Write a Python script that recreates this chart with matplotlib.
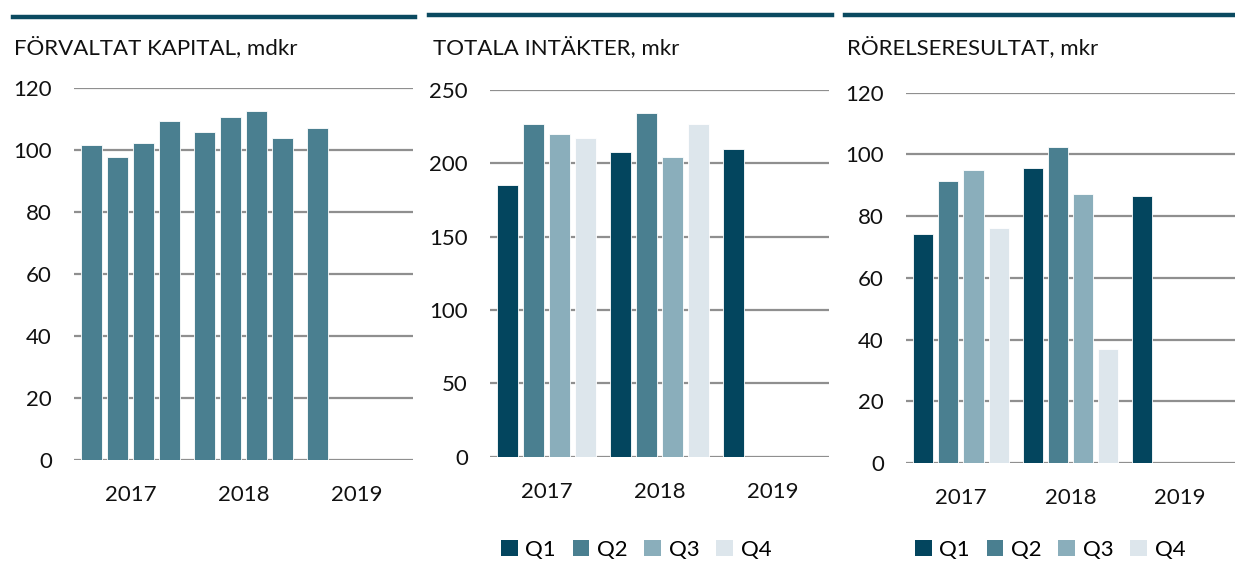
import numpy as np
import matplotlib
matplotlib.use("Agg")
import matplotlib.pyplot as plt
from matplotlib.patches import Patch
from matplotlib.lines import Line2D

plt.rcParams['font.family'] = ['Lato', 'DejaVu Sans']

years = ['2017', '2018', '2019']
quarters = ['Q1', 'Q2', 'Q3', 'Q4']
nan = np.nan

# Förvaltat kapital, mdkr (per quarter, per year)
aum_q1 = [101.6, 105.8, 107.1]
aum_q2 = [97.6, 110.6, nan]
aum_q3 = [102.4, 112.7, nan]
aum_q4 = [109.3, 103.8, nan]

# Totala intäkter, mkr
rev_q1 = [185, 208, 210]
rev_q2 = [227, 234.5, nan]
rev_q3 = [220, 204, nan]
rev_q4 = [217, 227, nan]

# Rörelseresultat, mkr
ebit_q1 = [74.1, 95.5, 86.5]
ebit_q2 = [91.4, 102.4, nan]
ebit_q3 = [94.8, 87.2, nan]
ebit_q4 = [76.2, 36.9, nan]

colors = ['#03455e', '#4a7f90', '#8aaebb', '#dde6ec']
grid_c = '#8f8f8f'
top_c = '#0b4a60'

W, H = 1235, 564
fig = plt.figure(figsize=(W / 100, H / 100), dpi=100)


def px_axes(l, r, t, b):
    return fig.add_axes([l / W, 1 - b / H, (r - l) / W, (b - t) / H])


def draw(ax, series, ymax, step, title, title_x, line_x0, line_x1, line_y,
         single_color=None, legend_x=None):
    x = np.arange(len(years))
    off = 0.23
    bw = 0.185
    handles = []
    for i, vals in enumerate(series):
        c = single_color if single_color else colors[i]
        ax.bar(x + (i - 1.5) * off, vals, width=bw, color=c,
               edgecolor='white', linewidth=0.6, zorder=3)
        handles.append(Patch(facecolor=colors[i], edgecolor='none', label=quarters[i]))
    ax.set_xlim(-0.5, len(years) - 0.5)
    ax.set_ylim(0, ymax)
    ax.set_yticks(np.arange(0, ymax + 1, step))
    ax.set_xticks(x)
    ax.set_xticklabels(years)
    for s in ax.spines.values():
        s.set_visible(False)
    ax.yaxis.grid(True, color=grid_c, linewidth=1.6, zorder=0)
    ax.set_axisbelow(True)
    ax.tick_params(axis='both', length=0, labelsize=16, colors='#111111')
    ax.tick_params(axis='y', pad=16)
    ax.tick_params(axis='x', pad=18)
    ax.set_facecolor('none')
    # title and top rule
    fig.text(title_x / W, 1 - 47 / H, title, fontsize=16, color='#111111',
             ha='left', va='center')
    fig.add_artist(Line2D([line_x0 / W, line_x1 / W], [1 - line_y / H, 1 - line_y / H],
                          color=top_c, linewidth=3.2, transform=fig.transFigure))
    if legend_x is not None:
        fig.legend(handles=handles, loc='center', bbox_to_anchor=(legend_x / W, 1 - 550 / H),
                   ncol=4, frameon=False, fontsize=16, handlelength=0.75,
                   handleheight=0.75, handletextpad=0.35, columnspacing=0.75,
                   borderpad=0, borderaxespad=0)
    return ax


ax1 = px_axes(74, 413, 88, 460)
draw(ax1, [aum_q1, aum_q2, aum_q3, aum_q4], 120, 20, 'FÖRVALTAT KAPITAL, mdkr',
     14, 13, 415, 17, single_color=colors[1])

ax2 = px_axes(490, 829, 90, 456.7)
draw(ax2, [rev_q1, rev_q2, rev_q3, rev_q4], 250, 50, 'TOTALA INTÄKTER, mkr',
     433, 429, 832, 15, legend_x=636)

ax3 = px_axes(906, 1235, 92.7, 462.9)
draw(ax3, [ebit_q1, ebit_q2, ebit_q3, ebit_q4], 120, 20, 'RÖRELSERESULTAT, mkr',
     847, 845, 1235, 15, legend_x=1050)

fig.savefig('out.png', dpi=100, facecolor='white')
